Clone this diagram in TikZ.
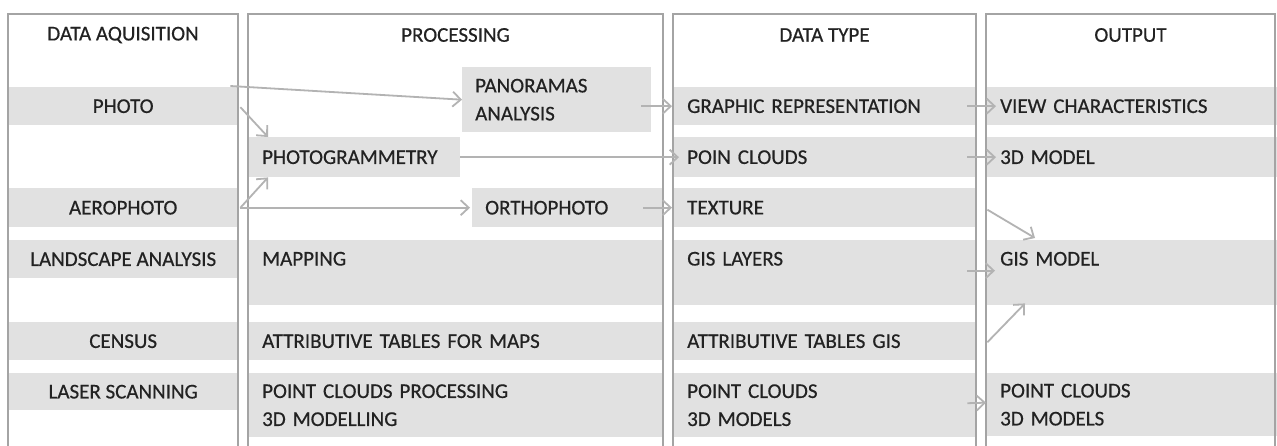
\documentclass[tikz,border=0pt]{standalone}
\usepackage{fontspec}
\setmainfont{Carlito}[FakeBold=0.5]
\usetikzlibrary{arrows.meta,calc}
\definecolor{bandgray}{HTML}{E1E1E1}
\definecolor{framegray}{HTML}{A4A4A4}
\definecolor{arrowgray}{HTML}{B3B3B3}
\definecolor{txtgray}{HTML}{222222}
\begin{document}
\begin{tikzpicture}[x=1pt,y=-1pt,
  every node/.style={font=\fontsize{21}{28}\selectfont, text=txtgray},
  cband/.style={fill=bandgray, anchor=north west, inner sep=0pt, minimum width=230pt, align=center},
  lband/.style={fill=bandgray, anchor=north west, inner xsep=14pt, inner ysep=0pt, align=left},
  frame/.style={draw=framegray, line width=2.8pt},
  conn/.style={draw=arrowgray, line width=1.8pt, -{Straight Barb[length=8pt,width=15pt]}},
  hdr/.style={anchor=center, inner sep=0pt}]
\useasboundingbox (0,0) rectangle (1277,445);
\fill[white] (0,0) rectangle (1277,445);

% column 1
\node[cband, minimum height=38pt] (photo) at (8,87) {PHOTO};
\node[cband, minimum height=39pt] (aero) at (8,188) {AEROPHOTO};
\node[cband, minimum height=38pt] (land) at (8,240) {LANDSCAPE ANALYSIS};
\node[cband, minimum height=38pt] (census) at (8,322) {CENSUS};
\node[cband, minimum height=37pt] (laser) at (8,373) {LASER SCANNING};

% column 2
\node[lband, text width=184pt, minimum height=40pt] (photogram) at (248,137) {PHOTOGRAMMETRY};
\node[lband, text width=387pt, minimum height=65pt] (mapping) at (248,240) {MAPPING\\\mbox{}};
\node[lband, text width=387pt, minimum height=38pt] (attrmaps) at (248,322) {ATTRIBUTIVE TABLES FOR MAPS};
\node[lband, text width=387pt, minimum height=64pt] (pcproc) at (248,373) {POINT CLOUDS PROCESSING\\3D MODELLING};
\node[lband, text width=163pt, minimum height=65pt, inner xsep=13pt] (panoramas) at (462,67) {PANORAMAS\\ANALYSIS};
\node[lband, text width=165pt, minimum height=39pt, inner xsep=13pt] (ortho) at (472,188) {ORTHOPHOTO};

% column 3
\node[lband, text width=275pt, minimum height=38pt] (graphic) at (673,87) {GRAPHIC REPRESENTATION};
\node[lband, text width=275pt, minimum height=40pt] (poin) at (673,137) {POIN CLOUDS};
\node[lband, text width=275pt, minimum height=39pt] (texture) at (673,188) {TEXTURE};
\node[lband, text width=275pt, minimum height=65pt] (gislayers) at (673,240) {GIS LAYERS\\\mbox{}};
\node[lband, text width=275pt, minimum height=38pt] (attrgis) at (673,322) {ATTRIBUTIVE TABLES GIS};
\node[lband, text width=275pt, minimum height=64pt] (pc3d) at (673,373) {POINT CLOUDS\\3D MODELS};

% column 4
\node[lband, text width=263pt, minimum height=38pt] (view) at (986,87) {VIEW CHARACTERISTICS};
\node[lband, text width=263pt, minimum height=40pt] (model3d) at (986,137) {3D MODEL};
\node[lband, text width=263pt, minimum height=65pt] (gismodel) at (986,240) {GIS MODEL\\\mbox{}};
\node[lband, text width=263pt, minimum height=63pt] (pcout) at (986,373) {POINT CLOUDS\\3D MODELS};

% frames
\draw[frame] (8,446) -- (8,14) -- (238,14) -- (238,446);
\draw[frame] (248,446) -- (248,14) -- (663,14) -- (663,446);
\draw[frame] (673,446) -- (673,14) -- (976,14) -- (976,446);
\draw[frame] (986,446) -- (986,14) -- (1275,14) -- (1275,446);

% headers
\node[hdr] (h1) at (123,35) {DATA AQUISITION};
\node[hdr] (h2) at (455.5,35) {PROCESSING};
\node[hdr] (h3) at (824.5,35) {DATA TYPE};
\node[hdr] (h4) at (1130.5,35) {OUTPUT};

% connectors
\draw[conn] ($(photo.north east)+(-8,-1)$) -- (panoramas.west);
\draw[conn] ($(photo.east)+(2,1)$) -- ($(photogram.north west)+(20,0)$);
\draw[conn] ($(aero.east)+(2,0)$) -- ($(photogram.south west)+(20,0)$);
\draw[conn] ($(aero.east)+(2,0)$) -- ($(ortho.west)+(-2,0)$);
\draw[conn] (photogram.east) -- ($(poin.west)+(6,0)$);
\draw[conn] ($(graphic.west -| panoramas.east)+(-10,0)$) -- ($(graphic.west)+(-1,0)$);
\draw[conn] ($(texture.west -| ortho.east)+(-20,0)$) -- ($(texture.west)+(-1,0)$);
\draw[conn] ($(graphic.east)+(-9,0)$) -- ($(view.west)+(10,0)$);
\draw[conn] ($(poin.east)+(-9,0)$) -- ($(model3d.west)+(10,0)$);
\draw[conn] ($(texture.east)+(11,2)$) -- ($(gismodel.north west)+(49,-2)$);
\draw[conn] ($(gislayers.east)+(-9,-2)$) -- ($(gismodel.west)+(9,-2)$);
\draw[conn] ($(attrgis.east)+(11,1)$) -- ($(gismodel.south west)+(39,-2)$);
\draw[conn] ($(pc3d.east)+(-9,-2)$) -- ($(pcout.west)+(0,-2)$);
\end{tikzpicture}
\end{document}
